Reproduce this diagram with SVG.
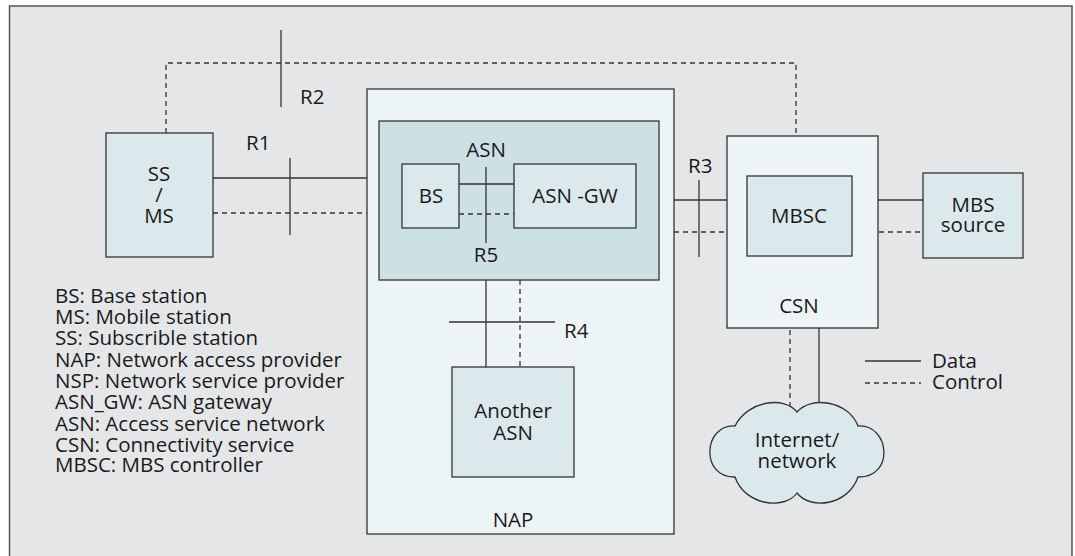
<svg xmlns="http://www.w3.org/2000/svg" width="1075" height="556" viewBox="0 0 1075 556">
<style>
text{font-family:"Open Sans","Noto Sans","Liberation Sans",sans-serif;font-size:20.5px;fill:#1a1a1a}
.c{text-anchor:middle}
.box{fill:#dbe9ec;stroke:#333;stroke-width:1.3}
.nap{fill:#ecf4f6;stroke:#333;stroke-width:1.3}
.asn{fill:#cde1e5;stroke:#333;stroke-width:1.3}
.d{fill:none;stroke:#333;stroke-width:1.3}
.k{fill:none;stroke:#333;stroke-width:1.3;stroke-dasharray:5 4}
</style>
<rect x="0" y="0" width="1075" height="556" fill="#fff"/>
<rect id="frame" x="9.5" y="6" width="1062.5" height="560" fill="#e5e6e8" stroke="#555" stroke-width="1.5"/>

<g id="connectors">
  <polyline class="k" points="166,133 166,63 796,63 796,176"/>
  <line class="d" x1="281" y1="30" x2="281" y2="107"/>
  <line class="d" x1="213" y1="178" x2="367" y2="178"/>
  <line class="k" x1="213" y1="213" x2="367" y2="213"/>
  <line class="d" x1="290" y1="158" x2="290" y2="235"/>
  <line class="d" x1="674" y1="200" x2="727" y2="200"/>
  <line class="k" x1="674" y1="232" x2="747" y2="232"/>
  <line class="d" x1="699" y1="180" x2="699" y2="257"/>
  <line class="d" x1="878" y1="200" x2="923" y2="200"/>
  <line class="k" x1="852" y1="232" x2="923" y2="232"/>
  <line class="k" x1="790" y1="330" x2="790" y2="408"/>
  <line class="d" x1="819" y1="328" x2="819" y2="402"/>
</g>

<g id="ss-ms">
  <rect class="box" x="106" y="133" width="107" height="124"/>
  <text class="c" x="159" y="181">SS</text>
  <text class="c" x="159" y="202">/</text>
  <text class="c" x="159" y="223">MS</text>
</g>

<g id="nap">
  <rect class="nap" x="367" y="89" width="307" height="445"/>
  <text class="c" x="513" y="527">NAP</text>
</g>

<g id="asn">
  <rect class="asn" x="379" y="121" width="280" height="159"/>
  <text class="c" x="486" y="157">ASN</text>
</g>

<g id="connectors-inner">
  <line class="d" x1="459" y1="184" x2="514" y2="184"/>
  <line class="k" x1="459" y1="214" x2="514" y2="214"/>
  <line class="d" x1="486" y1="167" x2="486" y2="243"/>
  <line class="d" x1="486" y1="280" x2="486" y2="367"/>
  <line class="k" x1="520" y1="280" x2="520" y2="367"/>
  <line class="d" x1="449" y1="322" x2="555" y2="322"/>
</g>

<g id="bs">
  <rect class="box" x="402" y="164" width="57" height="64"/>
  <text class="c" x="431" y="203">BS</text>
</g>

<g id="asn-gw">
  <rect class="box" x="514" y="164" width="122" height="64"/>
  <text class="c" x="575" y="203">ASN -GW</text>
</g>

<g id="another-asn">
  <rect class="box" x="452" y="367" width="122" height="110"/>
  <text class="c" x="513" y="418">Another</text>
  <text class="c" x="513" y="440">ASN</text>
</g>

<g id="csn">
  <rect class="nap" x="727" y="136" width="151" height="192"/>
  <text class="c" x="799" y="313">CSN</text>
</g>

<g id="mbsc">
  <rect class="box" x="747" y="176" width="105" height="80"/>
  <text class="c" x="799" y="223">MBSC</text>
</g>

<g id="mbs-source">
  <rect class="box" x="923" y="173" width="100" height="85"/>
  <text class="c" x="973" y="212">MBS</text>
  <text class="c" x="973" y="232">source</text>
</g>

<g id="internet">
  <path class="box" d="M735,426 C748,400 785,396 797,412 C810,396 848,400 858,426 C890,424 895,478 858,477 C848,506 810,510 797,493 C785,510 745,506 735,477 C700,478 703,424 735,426 Z"/>
  <text class="c" x="797" y="447">Internet/</text>
  <text class="c" x="797" y="468">network</text>
</g>

<g id="labels">
  <text x="300" y="104">R2</text>
  <text x="246" y="150">R1</text>
  <text x="486" y="262" class="c">R5</text>
  <text x="688" y="173">R3</text>
  <text x="564" y="338">R4</text>
</g>

<g id="legend">
  <text x="55" y="303">BS: Base station</text>
  <text x="55" y="324">MS: Mobile station</text>
  <text x="55" y="345">SS: Subscrible station</text>
  <text x="55" y="367">NAP: Network access provider</text>
  <text x="55" y="388">NSP: Network service provider</text>
  <text x="55" y="409">ASN_GW: ASN gateway</text>
  <text x="55" y="431">ASN: Access service network</text>
  <text x="55" y="452">CSN: Connectivity service</text>
  <text x="55" y="472">MBSC: MBS controller</text>
  <line class="d" x1="865" y1="361" x2="921" y2="361"/>
  <line class="k" x1="865" y1="383" x2="921" y2="383"/>
  <text x="932" y="368">Data</text>
  <text x="932" y="389">Control</text>
</g>
</svg>
